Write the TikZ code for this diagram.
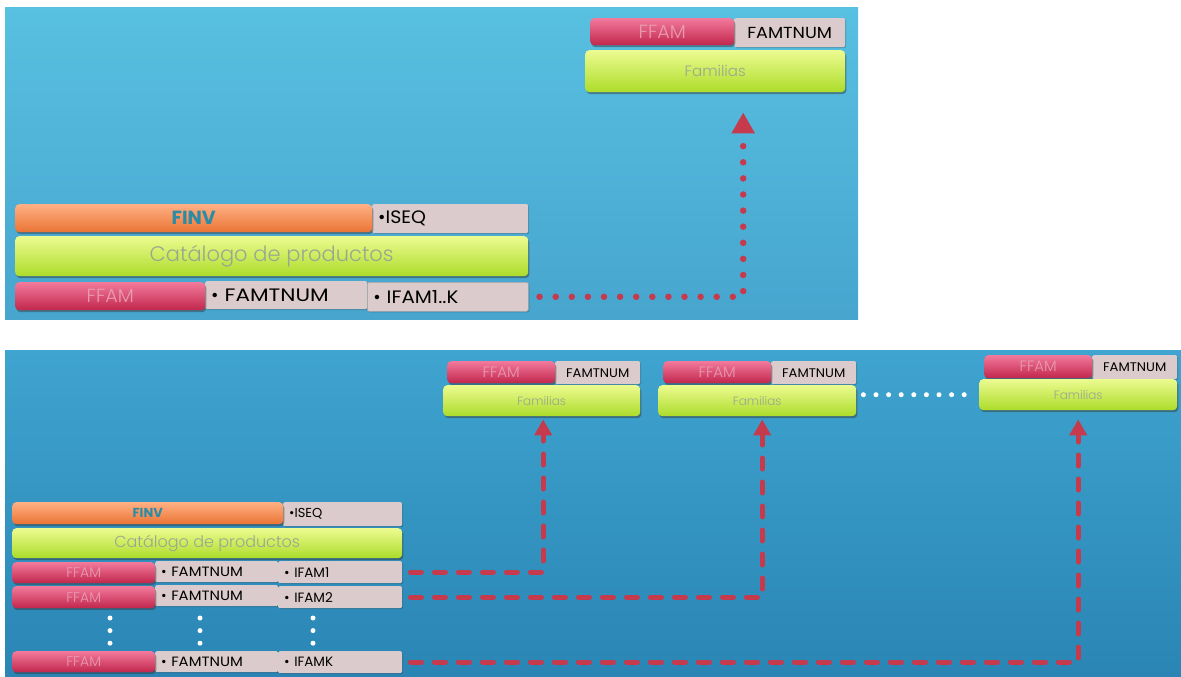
\documentclass[tikz,border=0pt]{standalone}
\usepackage{fontspec}
\usepackage{graphicx}
\setmainfont{Poppins}
\newfontfamily\lightfont{Poppins Light}
\usetikzlibrary{shadows,arrows.meta}

\definecolor{bgtopA}{HTML}{58C0E1}
\definecolor{bgbotA}{HTML}{47A5CE}
\definecolor{bgtopB}{HTML}{3FA4CF}
\definecolor{bgbotB}{HTML}{2A85B4}
\definecolor{orangeT}{HTML}{FFB084}
\definecolor{orangeB}{HTML}{EA7434}
\definecolor{limeT}{HTML}{ECFB90}
\definecolor{limeB}{HTML}{ACDC2A}
\definecolor{pinkT}{HTML}{F27A9C}
\definecolor{pinkB}{HTML}{C2264C}
\definecolor{pale}{HTML}{DBCBCC}
\definecolor{linkred}{HTML}{C63A4E}
\definecolor{labgrey}{HTML}{9BA690}
\definecolor{ffamtxt}{HTML}{E89CB0}
\definecolor{finvtxt}{HTML}{2C8BA5}

% horizontal stretch of a label
\newcommand\widen[2]{\scalebox{#1}[1]{#2}}

\tikzset{
  x=1pt, y=-1pt,
  sz/.style 2 args={minimum width=#1pt, minimum height=#2pt},
  bar/.style={rounded corners=4pt, inner sep=0pt, anchor=north west,
    drop shadow={shadow xshift=1.2pt, shadow yshift=-2pt, opacity=0.45, fill=black!80}},
  orangebar/.style={bar, top color=orangeT, bottom color=orangeB},
  limebar/.style={bar, top color=limeT, bottom color=limeB, text=labgrey},
  pinkbar/.style={bar, top color=pinkT, bottom color=pinkB, text=ffamtxt},
  palebox/.style={fill=pale, rounded corners=1.5pt, inner sep=0pt, inner xsep=6pt,
    anchor=north west, align=left, text=black,
    drop shadow={shadow xshift=1pt, shadow yshift=-1pt, opacity=0.2, fill=black}},
  paletxt/.style={text width=#1pt},
  dotline/.style={linkred, line width=6.5pt, line cap=round, dash pattern=on 0pt off 16.1pt,
    -{Triangle[length=21pt,width=22pt]}},
  dashline/.style={linkred, line width=5pt, line cap=round, dash pattern=on 11pt off 13pt,
    -{Triangle[length=16pt,width=17pt]}},
  whitedots/.style={white, line width=5pt, line cap=round, dash pattern=on 0pt off 12.6pt},
}

\begin{document}
\begin{tikzpicture}
\useasboundingbox (0,0) rectangle (1181,677);

% ---------- first panel: one product family ----------
\shade[top color=bgtopA, bottom color=bgbotA] (5,8) rectangle (858,319);

\node[palebox, paletxt=144, minimum height=29pt, font=\fontsize{18}{18}\selectfont]
  (iseqA) at (372,204) {\textbullet\widen{1.05}{ISEQ}};
\node[orangebar, sz={357}{28}, font=\bfseries\fontsize{19}{19}\selectfont, text=finvtxt]
  (finvA) at (15,204) {FINV};
\node[limebar, sz={513}{40}, font=\lightfont\fontsize{21}{21}\selectfont]
  (catA) at (15,236) {Catálogo de productos};
\node[palebox, paletxt=150, minimum height=28pt, font=\fontsize{18}{18}\selectfont]
  (famtA) at (205,281) {\textbullet\ \widen{1.2}{FAMTNUM}};
\node[palebox, paletxt=149, minimum height=29pt, draw=black!35, line width=0.6pt,
  font=\fontsize{18}{18}\selectfont]
  (ifamA) at (367,282) {\textbullet\ \widen{1.1}{IFAM1..K}};
\node[pinkbar, sz={190}{28}, font=\lightfont\fontsize{19}{19}\selectfont]
  (ffamA) at (15,282) {FFAM};

\node[palebox, paletxt=99, minimum height=29pt, align=center, font=\fontsize{16}{16}\selectfont]
  (famtnA) at (734,18) {\widen{1.1}{FAMTNUM}};
\node[pinkbar, sz={144}{27}, font=\lightfont\fontsize{19}{19}\selectfont]
  (ffamtA) at (590,18) {FFAM};
\node[limebar, sz={260}{42}, font=\lightfont\fontsize{15}{15}\selectfont]
  (famA) at (585,50) {Familias};

\draw[dotline] ([xshift=11pt]ifamA.east) -| ([xshift=28pt,yshift=-20pt]famA.south);

% ---------- second panel: K product families ----------
\shade[top color=bgtopB, bottom color=bgbotB] (5,350) rectangle (1181,677);

\node[palebox, paletxt=107, minimum height=24pt, font=\fontsize{13}{13}\selectfont]
  (iseqB) at (283,502) {\textbullet ISEQ};
\node[orangebar, sz={271}{22}, font=\bfseries\fontsize{13}{13}\selectfont, text=finvtxt]
  (finvB) at (12,502) {FINV};
\node[limebar, sz={390}{30}, font=\lightfont\fontsize{16}{16}\selectfont]
  (catB) at (12,528) {Catálogo de productos};

% rows 1, 2 and K of the catalogue
\node[palebox, paletxt=111, minimum height=21pt, font=\fontsize{13.5}{13.5}\selectfont]
  (famtB1) at (155,561) {\textbullet\ \widen{1.1}{FAMTNUM}};
\node[palebox, paletxt=112, minimum height=22pt, font=\fontsize{13.5}{13.5}\selectfont]
  (ifamB1) at (278,561) {\textbullet\ IFAM1};
\node[pinkbar, sz={143}{21}, font=\lightfont\fontsize{14}{14}\selectfont]
  (ffamB1) at (12,562) {FFAM};

\node[palebox, paletxt=111, minimum height=21pt, font=\fontsize{13.5}{13.5}\selectfont]
  (famtB2) at (155,585) {\textbullet\ \widen{1.1}{FAMTNUM}};
\node[palebox, paletxt=112, minimum height=22pt, font=\fontsize{13.5}{13.5}\selectfont]
  (ifamB2) at (278,586) {\textbullet\ IFAM2};
\node[pinkbar, sz={143}{22}, font=\lightfont\fontsize{14}{14}\selectfont]
  (ffamB2) at (12,586) {FFAM};

\node[palebox, paletxt=111, minimum height=21pt, font=\fontsize{13.5}{13.5}\selectfont]
  (famtBK) at (155,651) {\textbullet\ \widen{1.1}{FAMTNUM}};
\node[palebox, paletxt=112, minimum height=22pt, font=\fontsize{13.5}{13.5}\selectfont]
  (ifamBK) at (278,651) {\textbullet\ IFAMK};
\node[pinkbar, sz={143}{21}, font=\lightfont\fontsize{14}{14}\selectfont]
  (ffamBK) at (12,651) {FFAM};

% vertical ellipses between row 2 and row K
\draw[whitedots] (110,618) -- (110,645);
\draw[whitedots] (200,618) -- (200,645);
\draw[whitedots] (313,618) -- (313,645);

% family tables 1, 2 and K
\node[palebox, paletxt=73, minimum height=23pt, align=center, font=\fontsize{12.5}{12.5}\selectfont]
  (famtnB1) at (555,361) {\widen{1.05}{FAMTNUM}};
\node[pinkbar, sz={108}{22}, font=\lightfont\fontsize{15}{15}\selectfont]
  (ffamtB1) at (447,361) {FFAM};
\node[limebar, sz={197}{31}, font=\lightfont\fontsize{12}{12}\selectfont]
  (famB1) at (443,385) {Familias};

\node[palebox, paletxt=73, minimum height=23pt, align=center, font=\fontsize{12.5}{12.5}\selectfont]
  (famtnB2) at (771,361) {\widen{1.05}{FAMTNUM}};
\node[pinkbar, sz={108}{22}, font=\lightfont\fontsize{15}{15}\selectfont]
  (ffamtB2) at (663,361) {FFAM};
\node[limebar, sz={198}{31}, font=\lightfont\fontsize{12}{12}\selectfont]
  (famB2) at (658,385) {Familias};

\node[palebox, paletxt=73, minimum height=24pt, align=center, font=\fontsize{12.5}{12.5}\selectfont]
  (famtnB3) at (1092,355) {\widen{1.05}{FAMTNUM}};
\node[pinkbar, sz={108}{23}, font=\lightfont\fontsize{15}{15}\selectfont]
  (ffamtB3) at (984,355) {FFAM};
\node[limebar, sz={198}{31}, font=\lightfont\fontsize{12}{12}\selectfont]
  (famB3) at (979,379) {Familias};

\draw[whitedots] ([xshift=7pt]famB2.east |- famB3.west) -- ([xshift=-5pt]famB3.west);

% links from each IFAM field to its family table
\draw[dashline] ([xshift=8pt]ifamB1.east) -| ([xshift=1.5pt,yshift=-3pt]famB1.south);
\draw[dashline] ([xshift=8pt]ifamB2.east) -| ([xshift=5pt,yshift=-3pt]famB2.south);
\draw[dashline] ([xshift=8pt]ifamBK.east) -| ([xshift=0pt,yshift=-9pt]famB3.south);
\end{tikzpicture}
\end{document}
